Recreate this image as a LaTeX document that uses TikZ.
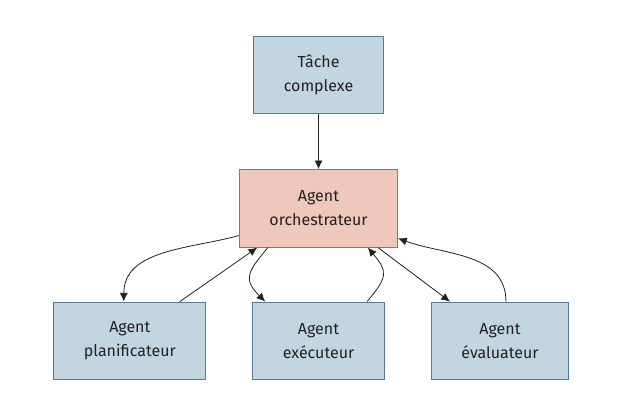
\documentclass[tikz,border=0pt]{standalone}
\usepackage{fontspec}
\setmainfont{Fira Sans}
\usepackage{tikz}
\usetikzlibrary{arrows.meta,positioning}
\definecolor{Sky}{HTML}{C3D5E1}
\definecolor{SkyLine}{HTML}{55799A}
\definecolor{Blush}{HTML}{F0C8BB}
\definecolor{BlushLine}{HTML}{C6604E}
\definecolor{Ink}{HTML}{222222}

\begin{document}
\begin{tikzpicture}[
  node distance=41.25pt and 34.5pt,
  agent/.style={draw=SkyLine,fill=Sky,line width=0.8pt,minimum height=58pt,inner xsep=22.5pt,align=center,font=\fontsize{12}{18}\selectfont,text=Ink},
  lead/.style={agent,draw=BlushLine,fill=Blush},
  arrow/.style={-{Latex[length=6.5pt,width=6pt]},line width=0.6pt,draw=Ink}
]
\useasboundingbox (0,0) rectangle (468pt,-312pt);
\node[agent] (task) at (238.9pt,-56.25pt) {Tâche\\complexe};
\node[lead,below=of task] (orch) {Agent\\orchestrateur};
\node[agent,below=40.5pt of orch] (exec) {Agent\\exécuteur};
\node[agent,left=of exec] (plan) {Agent\\planificateur};
\node[agent,right=of exec] (eval) {Agent\\évaluateur};
\draw[arrow] (task) -- (orch);
% aller-retour avec chaque agent
\draw[arrow] ([yshift=9pt]orch.south west) to[out=195,in=90] ([xshift=-4.5pt]plan.north);
\draw[arrow] ([xshift=37.5pt]plan.north) -- ([xshift=-46pt]orch.south);
\draw[arrow] ([xshift=-38pt]orch.south) to[out=230,in=135,looseness=1.5] ([xshift=-40pt]exec.north);
\draw[arrow] ([xshift=36.4pt]exec.north) to[out=50,in=-50,looseness=1.5] ([xshift=37pt]orch.south);
\draw[arrow] ([xshift=44.6pt]orch.south) -- ([xshift=-37.5pt]eval.north);
\draw[arrow] ([xshift=4.5pt]eval.north) to[out=90,in=-20] ([yshift=-22.5pt]orch.east);
\end{tikzpicture}
\end{document}
